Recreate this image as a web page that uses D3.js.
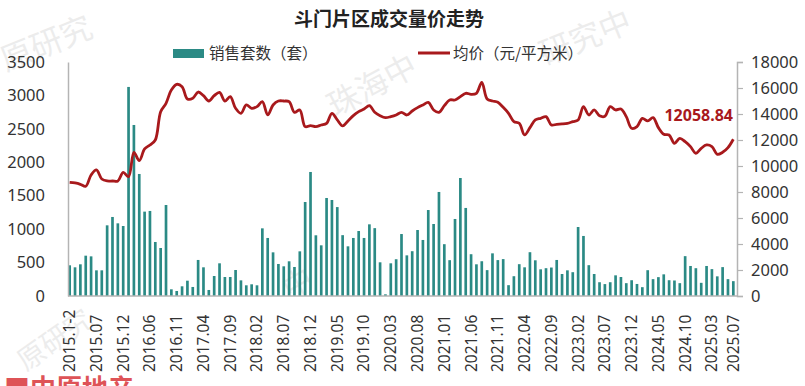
<!DOCTYPE html>
<html>
<head>
<meta charset="utf-8">
<script src="https://cdn.jsdelivr.net/npm/d3@7"></script>
<style>
  body { margin: 0; background: #fff; }
  svg { display: block; font-family: "Noto Sans", "Noto Sans CJK SC", sans-serif; }
</style>
</head>
<body>
<div id="chart"></div>
<script>
// months, 2015 and 2016 have Jan-Feb merged
months = [
  "2015.1-2","2015.03","2015.04","2015.05","2015.06","2015.07","2015.08","2015.09","2015.10","2015.11","2015.12",
  "2016.1-2","2016.03","2016.04","2016.05","2016.06","2016.07","2016.08","2016.09","2016.10","2016.11","2016.12",
  "2017.01","2017.02","2017.03","2017.04","2017.05","2017.06","2017.07","2017.08","2017.09","2017.10","2017.11","2017.12",
  "2018.01","2018.02","2018.03","2018.04","2018.05","2018.06","2018.07","2018.08","2018.09","2018.10","2018.11","2018.12",
  "2019.01","2019.02","2019.03","2019.04","2019.05","2019.06","2019.07","2019.08","2019.09","2019.10","2019.11","2019.12",
  "2020.01","2020.02","2020.03","2020.04","2020.05","2020.06","2020.07","2020.08","2020.09","2020.10","2020.11","2020.12",
  "2021.01","2021.02","2021.03","2021.04","2021.05","2021.06","2021.07","2021.08","2021.09","2021.10","2021.11","2021.12",
  "2022.01","2022.02","2022.03","2022.04","2022.05","2022.06","2022.07","2022.08","2022.09","2022.10","2022.11","2022.12",
  "2023.01","2023.02","2023.03","2023.04","2023.05","2023.06","2023.07","2023.08","2023.09","2023.10","2023.11","2023.12",
  "2024.01","2024.02","2024.03","2024.04","2024.05","2024.06","2024.07","2024.08","2024.09","2024.10","2024.11","2024.12",
  "2025.01","2025.02","2025.03","2025.04","2025.05","2025.06","2025.07"
];

// 销售套数 (套)
sales = [
  459, 429, 474, 603, 593, 384, 384, 1057, 1182, 1087, 1047,
  3127, 2558, 1825, 1262, 1272, 808, 718, 1361, 100, 75, 145,
  229, 135, 539, 429, 90, 299, 489, 284, 284, 389, 234, 160,
  175, 160, 1012, 868, 653, 479, 444, 519, 434, 668, 1406, 1855,
  908, 758, 1466, 1436, 1330, 910, 743, 868, 972, 868, 1072, 1015,
  504, 25, 489, 550, 927, 608, 670, 987, 838, 1286, 1077, 1556,
  775, 536, 1152, 1765, 1317, 625, 474, 520, 387, 638, 537, 552,
  162, 296, 476, 429, 655, 534, 399, 416, 426, 539, 329, 384,
  356, 1032, 898, 461, 329, 206, 178, 206, 309, 284, 192, 236,
  180, 132, 386, 252, 282, 324, 236, 232, 192, 596, 449, 416,
  197, 449, 402, 294, 432, 252, 222
];

// 均价 (元/平方米)
price = [
  8745, 8694, 8591, 8437, 9309, 9694, 9002, 8848, 8848, 8848, 9515,
  9181, 11053, 10412, 11310, 11617, 12002, 14181, 14822, 15848, 16284, 16104,
  15156, 15207, 15690, 15409, 14999, 15409, 15668, 14999, 15335, 14438, 14053, 14694,
  14438, 14566, 14950, 13925, 14694, 14999, 14999, 14950, 14130, 14310, 13028, 13105,
  13028, 13156, 13284, 14053, 13541, 13079, 13464, 13874, 14181, 14386, 14643, 14130,
  13874, 13720, 13797, 13925, 14130, 13925, 14233, 14489, 14694, 14899, 14310, 14130,
  14643, 15079, 15079, 15335, 15592, 15515, 15592, 16438, 15156, 14999, 14899, 14515,
  14053, 13412, 13284, 12387, 12951, 13541, 13669, 13797, 13156, 13207, 13233, 13284,
  13412, 13541, 14566, 13925, 14310, 13860, 13820, 14566, 14310, 14386, 13797, 12900,
  13028, 13669, 13464, 13720, 12951, 12438, 12387, 11746, 12130, 11874, 11490, 10977,
  11361, 11617, 11490, 10900, 11053, 11412, 12058.84
];

leftTicks = [0, 500, 1000, 1500, 2000, 2500, 3000, 3500];
rightTicks = [0, 2000, 4000, 6000, 8000, 10000, 12000, 14000, 16000, 18000];
xTickLabels = months.filter(function (d, i) { return i % 5 === 0 || i === months.length - 1; });

var W = 805, H = 386;
var teal = "#2b8a85", red = "#a8191c", axisGrey = "#b4b4b4", textCol = "#333";

var svg = d3.select("#chart").append("svg").attr("width", W).attr("height", H);

// faint watermarks
var marks = [
  { t: "原研究", x: 6, y: 72, r: -22, s: 32 },
  { t: "研究中", x: 545, y: 66, r: -22, s: 32 },
  { t: "珠海中", x: 335, y: 118, r: -28, s: 32 },
  { t: "原研究", x: 26, y: 372, r: -35, s: 28 },
  { t: "中", x: 290, y: 300, r: -30, s: 30 }
];
svg.selectAll("text.wm").data(marks).enter().append("text")
  .attr("class", "wm")
  .attr("transform", function (d) { return "translate(" + d.x + "," + d.y + ") rotate(" + d.r + ")"; })
  .style("font-size", function (d) { return d.s + "px"; })
  .style("font-family", "Noto Sans CJK SC")
  .style("fill", "#000").style("opacity", 0.07)
  .text(function (d) { return d.t; });
svg.append("text").attr("x", 4).attr("y", 398)
  .style("font-size", "26px").style("font-weight", "bold").style("font-family", "Noto Sans CJK SC")
  .style("fill", "#d9363a").style("opacity", 0.85)
  .text("■中原地产");

var x = d3.scaleBand().domain(months).range([67, 736]).paddingInner(0.5).paddingOuter(0.25);
var yL = d3.scaleLinear().domain([0, 3500]).range([296, 62]);
var yR = d3.scaleLinear().domain([0, 18000]).range([296, 62]);

// title
svg.append("text").attr("x", 389).attr("y", 26).attr("text-anchor", "middle")
  .style("font-size", "19px").style("font-weight", "bold").style("font-family", "Noto Sans CJK SC")
  .style("fill", "#222").text("斗门片区成交量价走势");

// legend
svg.append("rect").attr("x", 173).attr("y", 49).attr("width", 31).attr("height", 9).style("fill", teal);
svg.append("text").attr("x", 209).attr("y", 59).style("font-size", "15.5px")
  .style("font-family", "Noto Sans CJK SC").style("fill", textCol).text("销售套数（套）");
svg.append("line").attr("x1", 418).attr("x2", 450).attr("y1", 53).attr("y2", 53)
  .style("stroke", red).style("stroke-width", 3);
svg.append("text").attr("x", 453).attr("y", 59).style("font-size", "15.5px")
  .style("font-family", "Noto Sans CJK SC").style("fill", textCol).text("均价（元/平方米）");

// bars
svg.selectAll("rect.bar").data(sales).enter().append("rect")
  .attr("class", "bar")
  .attr("x", function (d, i) { return x(months[i]); })
  .attr("width", x.bandwidth())
  .attr("y", function (d) { return yL(d); })
  .attr("height", function (d) { return yL(0) - yL(d); })
  .style("fill", teal);

// left axis
var gl = svg.append("g").attr("transform", "translate(68,0)")
  .call(d3.axisLeft(yL).tickValues(leftTicks).tickSize(0).tickPadding(23).tickFormat(d3.format("d")));
gl.select(".domain").attr("stroke", axisGrey).attr("stroke-width", 1.5);
gl.selectAll("text").style("font-size", "16.5px").style("fill", textCol).style("font-family", "Noto Sans");

// right axis
var gr = svg.append("g").attr("transform", "translate(737,0)")
  .call(d3.axisRight(yR).tickValues(rightTicks).tickSize(6).tickPadding(8).tickFormat(d3.format("d")));
gr.select(".domain").attr("stroke", axisGrey).attr("stroke-width", 1.5);
gr.selectAll(".tick line").attr("stroke", axisGrey).attr("stroke-width", 1.2);
gr.selectAll("text").style("font-size", "16.5px").style("fill", textCol).style("font-family", "Noto Sans");

// bottom axis
var gb = svg.append("g").attr("transform", "translate(0,296)")
  .call(d3.axisBottom(x).tickValues(xTickLabels).tickSize(0).tickSizeOuter(0));
gb.select(".domain").attr("stroke", axisGrey).attr("stroke-width", 1.5).attr("d", "M68,0H737");
gb.selectAll(".tick text")
  .attr("y", 0).attr("x", 0).attr("dy", "0.35em")
  .attr("text-anchor", "start")
  .attr("transform", "translate(0,76) rotate(-90)")
  .style("font-size", "15.5px").style("fill", textCol).style("font-family", "Noto Sans");

// price line
var line = d3.line()
  .x(function (d, i) { return x(months[i]) + x.bandwidth() / 2; })
  .y(function (d) { return yR(d); })
  .curve(d3.curveCatmullRom.alpha(0.5));
svg.append("path").datum(price).attr("d", line)
  .style("fill", "none").style("stroke", red).style("stroke-width", 2.8)
  .style("stroke-linejoin", "round");

// last value label
svg.append("text").attr("x", 733).attr("y", 121).attr("text-anchor", "end")
  .style("font-size", "16px").style("font-weight", "bold").style("fill", "#a8191c")
  .style("font-family", "Noto Sans")
  .text(d3.format(".2f")(price[price.length - 1]));
</script>
</body>
</html>
